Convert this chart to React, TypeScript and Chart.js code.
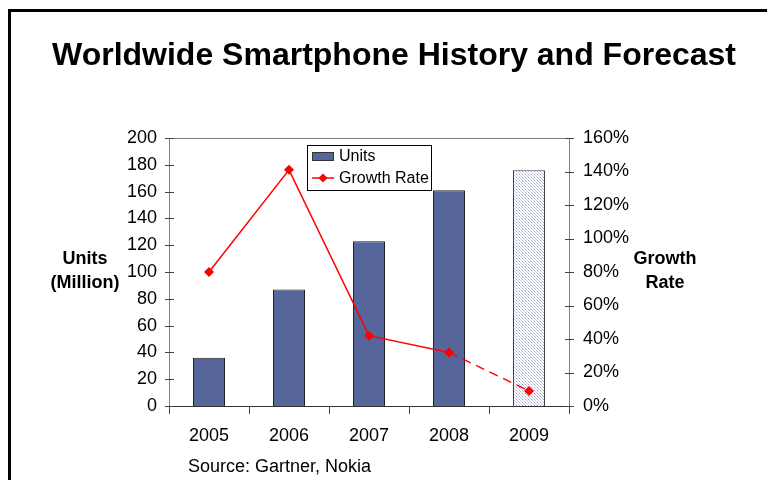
import React, { useEffect, useRef } from "react";
import { Chart, registerables } from "chart.js";
Chart.register(...registerables);

const years = ["2005", "2006", "2007", "2008", "2009"];
const units = [36, 87, 123, 161, 176];
const growth = [0.8, 1.41, 0.42, 0.32, 0.09];
const unitTicks = [0, 20, 40, 60, 80, 100, 120, 140, 160, 180, 200];
const growthTicks = [0, 0.2, 0.4, 0.6, 0.8, 1.0, 1.2, 1.4, 1.6];

const FONT = "'Liberation Sans', Arial, sans-serif";
const BAR_COLOR = "#56669a";

function makePattern(): CanvasPattern | string {
  const c = document.createElement("canvas");
  c.width = 3;
  c.height = 3;
  const g = c.getContext("2d");
  if (!g) return "#dde0ea";
  g.fillStyle = "#ffffff";
  g.fillRect(0, 0, 3, 3);
  g.fillStyle = "#9aa3c4";
  g.fillRect(0, 0, 1, 1);
  g.fillStyle = "#c9cee0";
  g.fillRect(1, 1, 1, 1);
  g.fillRect(2, 2, 1, 1);
  const p = g.createPattern(c, "repeat");
  return p || "#dde0ea";
}

const decorPlugin = {
  id: "decor",
  afterDraw(chart: any) {
    const ctx = chart.ctx as CanvasRenderingContext2D;
    const { left, right, top, bottom } = chart.chartArea;
    const sx = chart.scales.x;
    const sy = chart.scales.y;
    const sy1 = chart.scales.y1;
    ctx.save();
    // frame
    ctx.fillStyle = "#000";
    ctx.fillRect(8, 9, 3, 471);
    ctx.fillRect(8, 9, 759, 3);
    // plot box
    ctx.strokeStyle = "#808080";
    ctx.lineWidth = 1;
    ctx.beginPath();
    ctx.moveTo(left + 0.5, top + 0.5);
    ctx.lineTo(right + 0.5, top + 0.5);
    ctx.moveTo(left + 0.5, top);
    ctx.lineTo(left + 0.5, bottom);
    ctx.moveTo(right + 0.5, top);
    ctx.lineTo(right + 0.5, bottom);
    ctx.stroke();
    ctx.strokeStyle = "#333";
    ctx.beginPath();
    ctx.moveTo(left - 4, bottom + 0.5);
    ctx.lineTo(right + 5, bottom + 0.5);
    ctx.stroke();
    // ticks
    ctx.strokeStyle = "#444";
    ctx.beginPath();
    unitTicks.forEach((v) => {
      const y = Math.round(sy.getPixelForValue(v)) + 0.5;
      ctx.moveTo(left - 4, y);
      ctx.lineTo(left + 5, y);
    });
    growthTicks.forEach((v) => {
      const y = Math.round(sy1.getPixelForValue(v)) + 0.5;
      ctx.moveTo(right - 4, y);
      ctx.lineTo(right + 5, y);
    });
    const step = sx.getPixelForValue(1) - sx.getPixelForValue(0);
    for (let i = 0; i <= years.length; i++) {
      const x =
        i < years.length ? Math.round(sx.getPixelForValue(i) - step / 2) + 0.5 : right + 0.5;
      ctx.moveTo(x, bottom);
      ctx.lineTo(x, bottom + 8);
    }
    ctx.stroke();

    // texts
    ctx.fillStyle = "#000";
    ctx.textAlign = "center";
    ctx.textBaseline = "middle";
    ctx.font = `bold 32px ${FONT}`;
    ctx.fillText("Worldwide Smartphone History and Forecast", 394, 56);
    ctx.font = `bold 18px ${FONT}`;
    ctx.fillText("Units", 85, 259);
    ctx.fillText("(Million)", 85, 283);
    ctx.fillText("Growth", 665, 259);
    ctx.fillText("Rate", 665, 283);
    ctx.textAlign = "left";
    ctx.font = `18px ${FONT}`;
    ctx.fillText("Source: Gartner, Nokia", 188, 467);

    // legend
    const lx = 307, ly = 145, lw = 124, lh = 45;
    ctx.fillStyle = "#fff";
    ctx.fillRect(lx, ly, lw, lh);
    ctx.strokeStyle = "#000";
    ctx.lineWidth = 1;
    ctx.strokeRect(lx + 0.5, ly + 0.5, lw, lh);
    ctx.fillStyle = BAR_COLOR;
    ctx.fillRect(312, 152, 22, 9);
    ctx.strokeStyle = "#333";
    ctx.strokeRect(312.5, 152.5, 21, 8);
    ctx.strokeStyle = "#ff0000";
    ctx.lineWidth = 1.5;
    ctx.beginPath();
    ctx.moveTo(312, 178);
    ctx.lineTo(334, 178);
    ctx.stroke();
    ctx.fillStyle = "#ff0000";
    ctx.beginPath();
    ctx.moveTo(323, 173.5);
    ctx.lineTo(327.5, 178);
    ctx.lineTo(323, 182.5);
    ctx.lineTo(318.5, 178);
    ctx.closePath();
    ctx.fill();
    ctx.fillStyle = "#000";
    ctx.font = `16px ${FONT}`;
    ctx.textAlign = "left";
    ctx.fillText("Units", 339, 157);
    ctx.fillText("Growth Rate", 339, 179);
    ctx.restore();
  },
};

export default function App() {
  const ref = useRef<HTMLCanvasElement>(null);
  useEffect(() => {
    if (!ref.current) return;
    const pattern = makePattern();
    const chart = new Chart(ref.current, {
      type: "bar",
      data: {
        labels: years,
        datasets: [
          {
            type: "line",
            label: "Growth Rate",
            data: growth,
            yAxisID: "y1",
            borderColor: "#ff0000",
            backgroundColor: "#ff0000",
            borderWidth: 1.5,
            pointStyle: "rectRot",
            pointRadius: 5,
            pointBackgroundColor: "#ff0000",
            pointBorderColor: "#ff0000",
            pointBorderWidth: 0,
            tension: 0,
            order: 0,
            segment: {
              borderDash: (c: any) => (c.p1DataIndex === 4 ? [9, 6] : undefined),
            },
          } as any,
          {
            type: "bar",
            label: "Units",
            data: units,
            yAxisID: "y",
            backgroundColor: units.map((_, i) => (i === 4 ? pattern : BAR_COLOR)) as any,
            borderColor: units.map((_, i) => (i === 4 ? "#444" : "#222")),
            borderWidth: 1,
            borderSkipped: "bottom",
            barPercentage: 0.4,
            categoryPercentage: 1,
            order: 1,
          },
        ],
      },
      options: {
        animation: false,
        responsive: false,
        maintainAspectRatio: false,
        layout: { padding: { top: 138, left: 0, right: 0, bottom: 0 } },
        plugins: { legend: { display: false }, title: { display: false }, tooltip: { enabled: false } },
        scales: {
          x: {
            offset: true,
            grid: { display: false, drawTicks: false, offset: true },
            border: { display: false },
            ticks: { color: "#000", font: { family: FONT, size: 18 }, padding: 19 },
            afterFit: (s: any) => {
              s.height = 74;
            },
          },
          y: {
            position: "left",
            min: 0,
            max: 200,
            grid: { display: false, drawTicks: false },
            border: { display: false },
            ticks: { stepSize: 20, color: "#000", font: { family: FONT, size: 18 }, padding: 12 },
            afterFit: (s: any) => {
              s.width = 169;
            },
          },
          y1: {
            position: "right",
            min: 0,
            max: 1.6,
            grid: { display: false, drawTicks: false },
            border: { display: false },
            ticks: {
              stepSize: 0.2,
              color: "#000",
              font: { family: FONT, size: 18 },
              padding: 14,
              callback: (v: any) => Math.round(Number(v) * 100) + "%",
            },
            afterFit: (s: any) => {
              s.width = 198;
            },
          },
        },
      },
      plugins: [decorPlugin],
    });
    return () => chart.destroy();
  }, []);
  return (
    <div style={{ position: "fixed", left: 0, top: 0, width: 767, height: 480, overflow: "hidden", background: "#fff" }}>
      <canvas ref={ref} width={767} height={480} style={{ width: 767, height: 480, display: "block" }} />
    </div>
  );
}
